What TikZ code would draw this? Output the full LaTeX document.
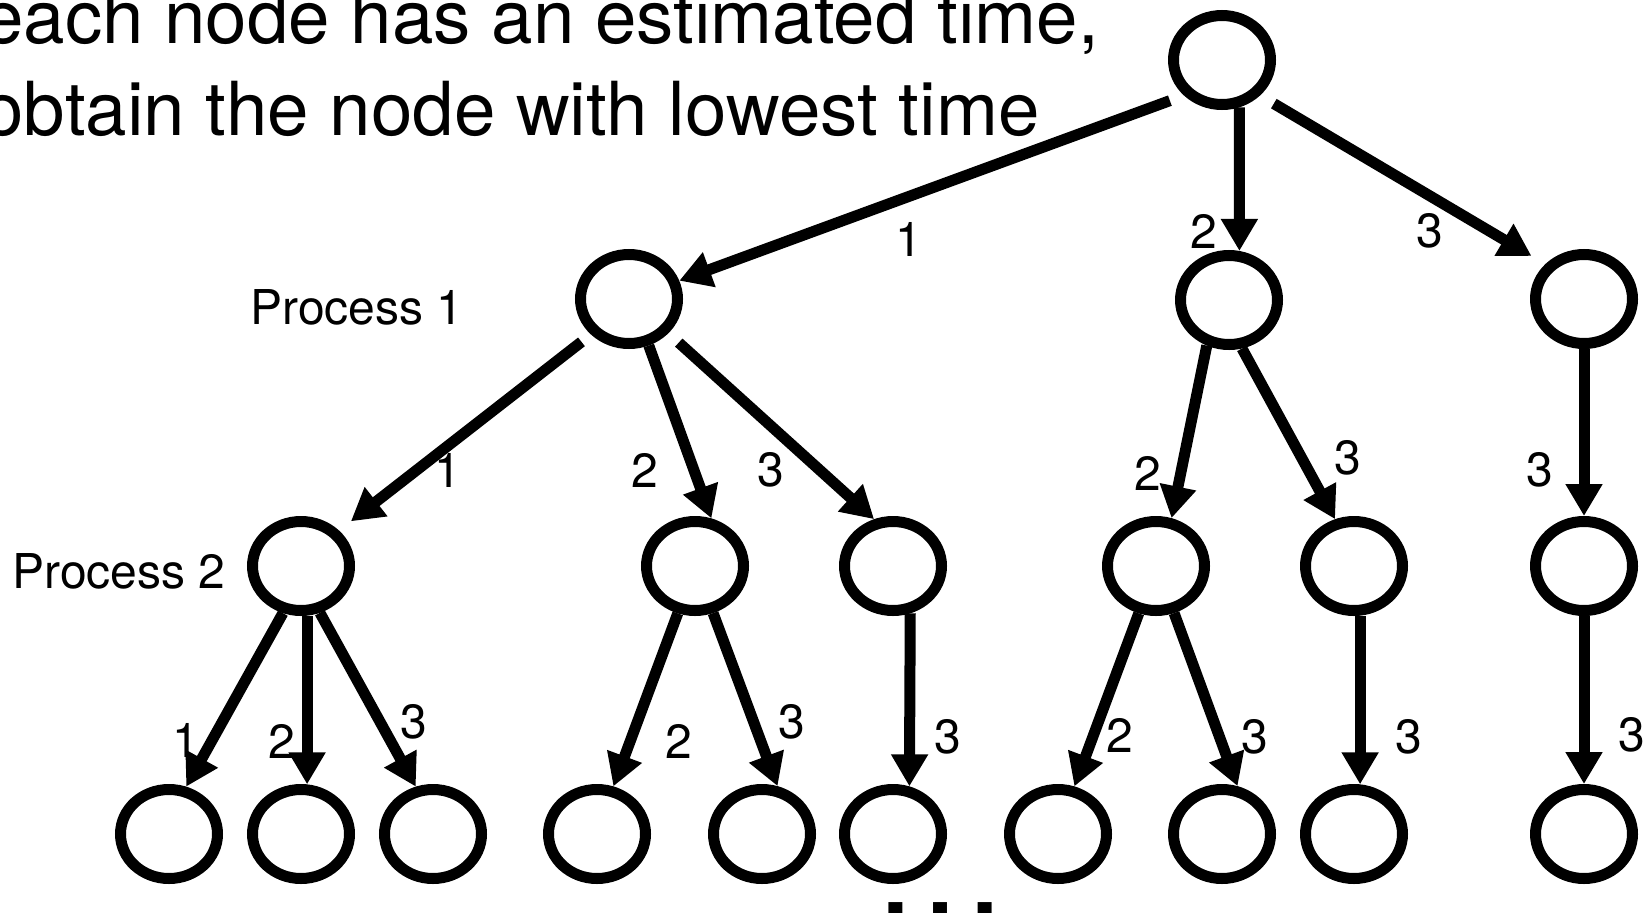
\documentclass[tikz,border=0pt]{standalone}
\usepackage{fontspec}
\setmainfont{TeX Gyre Heros}
\usetikzlibrary{arrows.meta,shapes.geometric}

\begin{document}
\begin{tikzpicture}[x=1pt,y=-1pt,
  nd/.style={draw,ellipse,line width=11pt,minimum width=97pt,minimum height=89pt,inner sep=0pt},
  lbl/.style={inner sep=0pt,font=\fontsize{48}{58}\selectfont},
  ttl/.style={inner sep=0pt,anchor=base west,font=\fontsize{74.5}{90}\selectfont},
  arr/.style={-{Triangle[length=32pt,width=35pt]},line width=11pt}
]
\useasboundingbox (0,0) rectangle (1652,913);
% title
\node[ttl] (t1) at (-18,43) {each node has an estimated time,};
\node[ttl] (t2) at (-18,135) {obtain the node with lowest time};
% tree
\node[nd] (root) at (1222,60) {};
\node[nd] (n1) at (629,299) {};
\node[nd] (n2) at (1229,300) {};
\node[nd] (n3) at (1584,299) {};
\node[nd] (n11) at (301,566) {};
\node[nd] (n12) at (695,566) {};
\node[nd] (n13) at (893,566) {};
\node[nd] (n22) at (1156,566) {};
\node[nd] (n23) at (1354,566) {};
\node[nd] (n33) at (1584,566) {};
\node[nd] (n111) at (169,834) {};
\node[nd] (n112) at (301,834) {};
\node[nd] (n113) at (433,834) {};
\node[nd] (n122) at (597,834) {};
\node[nd] (n123) at (762,834) {};
\node[nd] (n133) at (893,834) {};
\node[nd] (n222) at (1058,834) {};
\node[nd] (n223) at (1222,834) {};
\node[nd] (n233) at (1354,834) {};
\node[nd] (n333) at (1584,834) {};
\node[lbl] (p1) at (357,307) {Process 1};
\node[lbl] (p2) at (119,571) {Process 2};
% edges
\draw[arr,shorten <=15pt] (root.223) -- (n1.20);
\draw[arr] (root.290) -- (n2.78);
\draw[arr,shorten <=16pt,shorten >=16pt] (root.317) -- (n3.138);
\draw[arr,shorten <=12pt,shorten >=15pt] (n1.223) -- (n11.43);
\draw[arr] (n1.293) -- (n12.71);
\draw[arr,shorten <=14pt] (n1.319) -- (n13.112);
\draw[arr] (n2.244) -- (n22.72);
\draw[arr] (n2.285) -- (n23.112);
\draw[arr] (n3.270) -- (n33.90);
\draw[arr] (n11.249) -- (n111.70);
\draw[arr] (n11.277) -- (n112.83);
\draw[arr] (n11.292) -- (n113.110);
\draw[arr] (n12.250) -- (n122.71);
\draw[arr] (n12.291) -- (n123.72);
\draw[arr] (n13.290) -- (n133.71);
\draw[arr] (n22.250) -- (n222.71);
\draw[arr] (n22.291) -- (n223.72);
\draw[arr] (n23.277) -- (n233.83);
\draw[arr] (n33.270) -- (n333.90);
% edge labels
\node[lbl] (l1) at (909,239) {1};
\node[lbl] (l2) at (1204,231) {2};
\node[lbl] (l3) at (1430,231) {3};
\node[lbl] (l11) at (448,470) {1};
\node[lbl] (l12) at (645,470) {2};
\node[lbl] (l13) at (771,470) {3};
\node[lbl] (l22) at (1148,473) {2};
\node[lbl] (l23) at (1348,458) {3};
\node[lbl] (l33) at (1540,470) {3};
\node[lbl] (l111) at (186,740) {1};
\node[lbl] (l112) at (282,741) {2};
\node[lbl] (l113) at (414,722) {3};
\node[lbl] (l122) at (679,741) {2};
\node[lbl] (l123) at (792,722) {3};
\node[lbl] (l133) at (948,737) {3};
\node[lbl] (l222) at (1120,735) {2};
\node[lbl] (l223) at (1255,737) {3};
\node[lbl] (l233) at (1409,737) {3};
\node[lbl] (l333) at (1632,735) {3};
% more below
\node[inner sep=0pt,anchor=base west,font=\fontsize{134}{134}\selectfont] (dots) at (873,916) {…};
\end{tikzpicture}
\end{document}
